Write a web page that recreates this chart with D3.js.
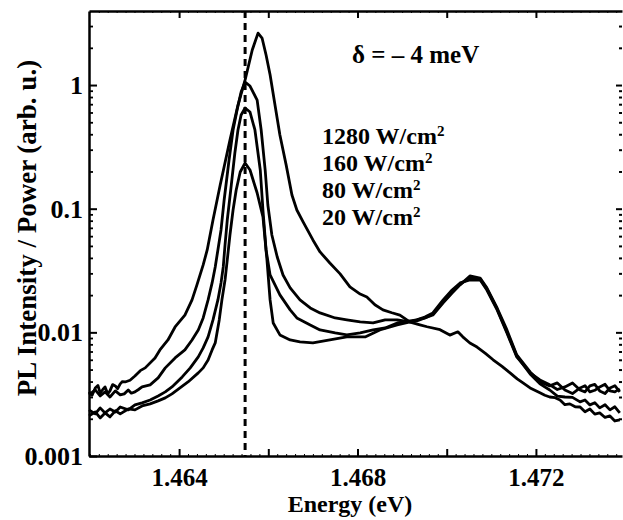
<!DOCTYPE html>
<html><head><meta charset="utf-8">
<script src="https://cdnjs.cloudflare.com/ajax/libs/d3/7.8.5/d3.min.js"></script>
<style>
body{margin:0;background:#fff;}
svg text{font-family:"Liberation Serif","Times New Roman",serif;font-weight:bold;fill:#000;}
</style></head>
<body><svg id="c" width="623" height="520"></svg>
<script>
// ---- data ----
const energy1280 = [1.46198,1.46205,1.46212,1.46218,1.46223,1.46229,1.46234,1.46240,1.46245,1.46251,1.46257,1.46262,1.46268,1.46273,1.46279,1.46290,1.46301,1.46313,1.46324,1.46346,1.46357,1.46375,1.46391,1.46413,1.46429,1.46440,1.46454,1.46463,1.46476,1.46492,1.46514,1.46532,1.46548,1.46564,1.46577,1.46586,1.46595,1.46604,1.46615,1.46626,1.46640,1.46653,1.46664,1.46678,1.46700,1.46716,1.46738,1.46761,1.46783,1.46806,1.46821,1.46839,1.46857,1.46877,1.46895,1.46918,1.46940,1.46956,1.46985,1.47007,1.47025,1.47036,1.47052,1.47068,1.47086,1.47104,1.47124,1.47142,1.47158,1.47171,1.47187,1.47209,1.47220,1.47231,1.47243,1.47254,1.47265,1.47276,1.47288,1.47299,1.47310,1.47321,1.47332,1.47343,1.47355,1.47366,1.47377,1.47388];
const pl1280 = [0.0033,0.0031,0.00355,0.00372,0.00324,0.00345,0.00362,0.00318,0.00336,0.00378,0.00369,0.0035,0.00383,0.0040,0.00397,0.0041,0.00444,0.0049,0.00516,0.00621,0.00721,0.00868,0.01105,0.0138,0.0183,0.0242,0.0351,0.0464,0.081,0.155,0.359,0.689,1.10,1.92,2.63,2.40,1.75,1.21,0.689,0.394,0.226,0.129,0.0976,0.0781,0.0559,0.0447,0.0364,0.0297,0.0233,0.0204,0.0193,0.0167,0.0152,0.0144,0.0138,0.0121,0.0115,0.0111,0.0105,0.0095,0.0101,0.0092,0.0082,0.0076,0.0068,0.0060,0.0053,0.0047,0.0042,0.0039,0.00355,0.00324,0.0031,0.00300,0.00296,0.00284,0.0026,0.00264,0.0025,0.00249,0.00228,0.0024,0.00218,0.00223,0.00205,0.00211,0.00192,0.00196];

const energy160 = [1.46198,1.46212,1.46223,1.46234,1.46245,1.46257,1.46268,1.46277,1.46286,1.46293,1.46301,1.46309,1.46317,1.46335,1.46353,1.46369,1.46391,1.46413,1.46429,1.46443,1.46454,1.46465,1.46474,1.46481,1.46487,1.46494,1.46501,1.46512,1.46521,1.46530,1.46539,1.46548,1.46559,1.46575,1.46584,1.46593,1.46599,1.46608,1.46620,1.46633,1.46649,1.46671,1.46694,1.46716,1.46750,1.46776,1.46806,1.46835,1.46862,1.46889,1.46918,1.46933,1.46951,1.46969,1.46992,1.47012,1.47030,1.47052,1.47075,1.47090,1.47113,1.47135,1.47157,1.47187,1.47209,1.47231,1.47248,1.47265,1.47282,1.47299,1.47310,1.47321,1.47332,1.47343,1.47355,1.47366,1.47377,1.47388];
const pl160 = [0.00312,0.00342,0.00306,0.0033,0.003,0.00336,0.00312,0.00318,0.00342,0.00322,0.0033,0.00345,0.00362,0.00376,0.00428,0.00516,0.00621,0.00721,0.00868,0.01046,0.01307,0.0183,0.0251,0.0338,0.0464,0.0673,0.1176,0.2475,0.433,0.628,0.878,1.057,0.982,0.756,0.433,0.2055,0.1071,0.0613,0.0407,0.0291,0.0229,0.0183,0.01575,0.01435,0.01307,0.0126,0.01214,0.01191,0.0126,0.0126,0.01214,0.0126,0.01332,0.01435,0.0183,0.022,0.0251,0.0265,0.0265,0.022,0.01517,0.00989,0.00633,0.0047,0.00412,0.00376,0.00345,0.00362,0.0039,0.00342,0.0033,0.00369,0.0038,0.00336,0.0032,0.00355,0.0037,0.0033];

const energy80 = [1.46198,1.46212,1.46223,1.46234,1.46245,1.46257,1.46268,1.46286,1.46301,1.46317,1.46335,1.46353,1.46369,1.46384,1.46407,1.46425,1.46443,1.46454,1.46465,1.46476,1.46487,1.46494,1.46499,1.46503,1.46508,1.46517,1.46525,1.46532,1.46539,1.46548,1.46559,1.46570,1.46582,1.46588,1.46595,1.46604,1.46626,1.46649,1.46664,1.46694,1.46716,1.46750,1.46776,1.46806,1.46835,1.46862,1.46889,1.46918,1.46933,1.46951,1.46969,1.46992,1.47012,1.47030,1.47052,1.47075,1.47090,1.47113,1.47135,1.47157,1.47187,1.47209,1.47231,1.47248,1.47265,1.47282,1.47299,1.47310,1.47321,1.47332,1.47343,1.47355,1.47366,1.47377,1.47388];
const pl80 = [0.00236,0.00219,0.00245,0.00223,0.0024,0.00227,0.00249,0.00236,0.00259,0.00269,0.00284,0.00306,0.0033,0.00362,0.00436,0.00516,0.00633,0.00748,0.00918,0.0126,0.0183,0.0251,0.0338,0.0509,0.081,0.155,0.282,0.433,0.572,0.652,0.605,0.433,0.2055,0.0976,0.0464,0.0291,0.0201,0.0152,0.01307,0.01148,0.01046,0.00989,0.00953,0.00989,0.01046,0.01085,0.01191,0.01236,0.0126,0.01307,0.0138,0.0173,0.0208,0.0242,0.0286,0.0275,0.0229,0.01575,0.01046,0.00657,0.00478,0.00397,0.00369,0.0039,0.00342,0.0032,0.00355,0.0037,0.0033,0.0034,0.00362,0.0038,0.00336,0.0033,0.00349];

const energy20 = [1.46198,1.46212,1.46223,1.46234,1.46245,1.46257,1.46268,1.46286,1.46301,1.46317,1.46335,1.46353,1.46369,1.46384,1.46402,1.46420,1.46443,1.46454,1.46465,1.46474,1.46481,1.46490,1.46496,1.46503,1.46508,1.46514,1.46521,1.46528,1.46537,1.46548,1.46559,1.46575,1.46588,1.46597,1.46604,1.46611,1.46626,1.46649,1.46671,1.46700,1.46738,1.46776,1.46817,1.46850,1.46889,1.46918,1.46933,1.46951,1.46969,1.46992,1.47012,1.47030,1.47052,1.47075,1.47090,1.47113,1.47135,1.47157,1.47187,1.47209,1.47231,1.47248,1.47265,1.47282,1.47299,1.47310,1.47321,1.47332,1.47343,1.47355,1.47366,1.47377,1.47388];
const pl20 = [0.00211,0.00227,0.00203,0.00223,0.00207,0.00232,0.00219,0.0024,0.00236,0.00254,0.00264,0.00279,0.00295,0.00318,0.00355,0.00397,0.0047,0.00516,0.00598,0.00721,0.00821,0.0126,0.0183,0.0265,0.0385,0.0613,0.0976,0.1416,0.198,0.234,0.2055,0.1339,0.0857,0.0385,0.0183,0.01191,0.00953,0.00868,0.00837,0.00821,0.00868,0.00918,0.00918,0.01046,0.01148,0.01214,0.01236,0.01307,0.01408,0.01761,0.02121,0.02462,0.0275,0.02702,0.02243,0.01546,0.01007,0.00645,0.00461,0.00383,0.00342,0.00305,0.003,0.00298,0.00274,0.00284,0.00259,0.0027,0.00245,0.0026,0.00236,0.0025,0.00223];

const powerLabels = ["1280", "160", "80", "20"];
const xMajorTicks = [1.464, 1.466, 1.468, 1.470, 1.472];
const xLabelTicks = [1.464, 1.468, 1.472];
const yDecadeTicks = [0.001, 0.01, 0.1, 1];
const yTickLabels = ["0.001", "0.01", "0.1", "1"];
const detuningText = "\u03b4 = \u2013 4 meV";
const markerEnergy = 1.46548;
const xDomain = [1.46198, 1.47393];
const yDomain = [0.001, 3.97];

// ---- layout ----
const L = 89, R = 622, T = 11, B = 456;
const svg = d3.select("#c");
const x = d3.scaleLinear().domain(xDomain).range([L, R]);
const y = d3.scaleLog().domain(yDomain).range([B, T]);

const yMinor = [];
[0.001, 0.01, 0.1, 1].forEach(d => { for (let k = 2; k <= 9; k++) { const v = d * k; if (v <= yDomain[1]) yMinor.push(v); } });
const xMinor = d3.range(1.4620, 1.47392, 0.0002).filter(v => !xMajorTicks.some(m => Math.abs(m - v) < 1e-6));

const axisStroke = 2.5;
// left axis
const gL = svg.append("g").attr("transform", `translate(${L},0)`)
  .call(d3.axisLeft(y).tickValues(yDecadeTicks).tickFormat((d, i) => yTickLabels[i]).tickSizeInner(-8).tickSizeOuter(0).tickPadding(6));
gL.selectAll("text").style("font-size", "26px");
gL.select(".domain").attr("stroke-width", axisStroke);
gL.selectAll(".tick line").attr("stroke-width", 2);
svg.append("g").attr("transform", `translate(${L},0)`)
  .call(d3.axisLeft(y).tickValues(yMinor).tickFormat("").tickSizeInner(-4).tickSizeOuter(0))
  .call(g => g.select(".domain").remove()).selectAll("line").attr("stroke-width", 1.8);

// right ticks
svg.append("g").attr("transform", `translate(${R},0)`)
  .call(d3.axisRight(y).tickValues(yDecadeTicks.filter(d => d > 0.001)).tickFormat("").tickSizeInner(-6).tickSizeOuter(0))
  .call(g => g.select(".domain").remove()).selectAll("line").attr("stroke-width", 2);
svg.append("g").attr("transform", `translate(${R},0)`)
  .call(d3.axisRight(y).tickValues(yMinor).tickFormat("").tickSizeInner(-3).tickSizeOuter(0))
  .call(g => g.select(".domain").remove()).selectAll("line").attr("stroke-width", 2);

// bottom axis
const gB = svg.append("g").attr("transform", `translate(0,${B})`)
  .call(d3.axisBottom(x).tickValues(xMajorTicks).tickFormat(d => xLabelTicks.some(v => Math.abs(v - d) < 1e-7) ? d3.format(".3f")(d) : "").tickSizeInner(-7).tickSizeOuter(0).tickPadding(12));
gB.selectAll("text").style("font-size", "25px");
gB.select(".domain").attr("stroke-width", axisStroke);
gB.selectAll(".tick line").attr("stroke-width", 2);
svg.append("g").attr("transform", `translate(0,${B})`)
  .call(d3.axisBottom(x).tickValues(xMinor).tickFormat("").tickSizeInner(-2).tickSizeOuter(0))
  .call(g => g.select(".domain").remove()).selectAll("line").attr("stroke-width", 1);

// top axis
const gT = svg.append("g").attr("transform", `translate(0,${T})`)
  .call(d3.axisTop(x).tickValues(xMajorTicks).tickFormat("").tickSizeInner(-7).tickSizeOuter(0));
gT.select(".domain").attr("stroke-width", axisStroke);
gT.selectAll(".tick line").attr("stroke-width", 2);
svg.append("g").attr("transform", `translate(0,${T})`)
  .call(d3.axisTop(x).tickValues(xMinor).tickFormat("").tickSizeInner(-2).tickSizeOuter(0))
  .call(g => g.select(".domain").remove()).selectAll("line").attr("stroke-width", 1);

// dashed marker
svg.append("line").attr("x1", x(markerEnergy)).attr("x2", x(markerEnergy))
  .attr("y1", T).attr("y2", B).attr("stroke", "#000").attr("stroke-width", 3).attr("stroke-dasharray", "7,5");

// curves
const series = [[energy1280, pl1280], [energy160, pl160], [energy80, pl80], [energy20, pl20]];
const line = d3.line().x(d => x(d[0])).y(d => y(d[1]));
series.forEach(([e, v]) => {
  const n = Math.min(e.length, v.length);
  svg.append("path").datum(d3.range(n).map(i => [e[i], v[i]]))
    .attr("d", line).attr("fill", "none").attr("stroke", "#000")
    .attr("stroke-width", 2.8).attr("stroke-linejoin", "round");
});

// annotations
svg.append("text").attr("x", 352).attr("y", 63).style("font-size", "25px").text(detuningText);
powerLabels.forEach((p, i) => {
  const t = svg.append("text").attr("x", 322).attr("y", 144 + i * 27).style("font-size", "24px");
  t.append("tspan").text(p + " W/cm");
  t.append("tspan").attr("dy", -8).style("font-size", "15px").text("2");
});

// axis titles
svg.append("text").attr("x", 350).attr("y", 512).attr("text-anchor", "middle")
  .style("font-size", "24px").text("Energy (eV)");
svg.append("text").attr("transform", "translate(36,228) rotate(-90)").attr("text-anchor", "middle")
  .style("font-size", "27px").text("PL Intensity / Power (arb. u.)");
</script></body></html>
